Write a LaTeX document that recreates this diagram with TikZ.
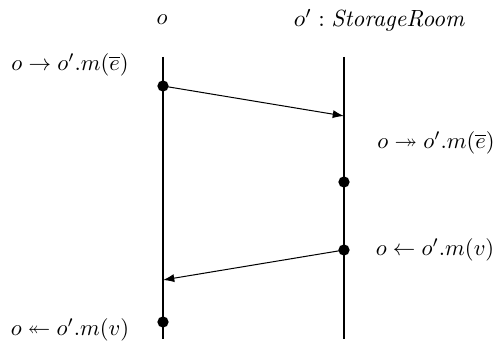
\documentclass[tikz,border=0pt]{standalone}
\usepackage{amssymb}
\usetikzlibrary{arrows.meta}
\begin{document}
\begin{tikzpicture}[x=0.444pt,y=-0.444pt,
  life/.style={line width=0.7pt},
  msg/.style={line width=0.45pt,-{Latex[length=5pt,width=3.6pt]}},
  dot/.style={circle,fill=black,inner sep=0pt,minimum size=5pt},
  lbl/.style={inner sep=0pt}]
\useasboundingbox (0,0) rectangle (496,347);
% headers
\node[lbl] (hA) at (162,20) {$o$};
\node[lbl,scale=1.04] (hB) at (380,20) {$o' : \mathit{StorageRoom}$};
% lifelines
\coordinate (aTop) at (163,57);
\coordinate (aBot) at (163,339);
\coordinate (bTop) at (344,57);
\coordinate (bBot) at (344,339);
\draw[life] (aTop) -- (aBot);
\draw[life] (bTop) -- (bBot);
% events
\node[dot] (d1) at (163,86) {};
\node[dot] (d2) at (344,182) {};
\node[dot] (d3) at (344,250) {};
\node[dot] (d4) at (163,322) {};
\coordinate (r1) at (344,116);
\coordinate (r2) at (163,280);
\draw[msg] (d1.center) -- (r1);
\draw[msg] (d3.center) -- (r2);
% labels
\node[lbl] (l1) at (70,65) {$o \rightarrow o'.m(\overline{e})$};
\node[lbl] (l2) at (436,143) {$o \twoheadrightarrow o'.m(\overline{e})$};
\node[lbl] (l3) at (435,250) {$o \leftarrow o'.m(v)$};
\node[lbl] (l4) at (70,330) {$o \twoheadleftarrow o'.m(v)$};
\end{tikzpicture}
\end{document}
